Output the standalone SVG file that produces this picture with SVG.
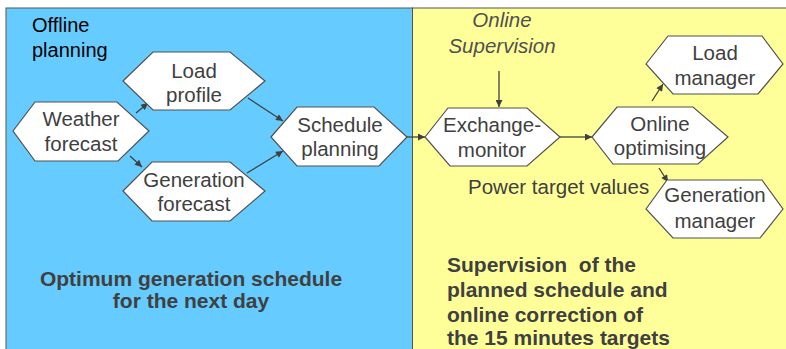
<svg xmlns="http://www.w3.org/2000/svg" width="786" height="349" viewBox="0 0 786 349">
<style>
.hex{fill:#ffffff;stroke:#505050;stroke-width:1.2}
.lbl{font-family:"Liberation Sans",Arial,sans-serif;font-size:20.5px;fill:#404040;text-anchor:middle}
.bold{font-family:"Liberation Sans",Arial,sans-serif;font-size:21px;font-weight:bold;fill:#404040}
.conn{stroke:#404040;stroke-width:1.3;fill:none;marker-end:url(#ah)}
</style>
<defs>
<marker id="ah" viewBox="0 0 10 10" refX="10" refY="5" markerWidth="8" markerHeight="7" markerUnits="userSpaceOnUse" orient="auto">
<path d="M0,0 L10,5 L0,10 z" fill="#404040"/>
</marker>
</defs>
<rect x="0" y="0" width="786" height="349" fill="#ffffff"/>
<g id="panel-offline">
<rect x="6" y="8" width="406.5" height="345" fill="#66CCFF" stroke="#555555" stroke-width="1"/>
<text x="32" y="32" font-family="Liberation Sans, Arial, sans-serif" font-size="20" fill="#000000">Offline</text>
<text x="32" y="57" font-family="Liberation Sans, Arial, sans-serif" font-size="20" fill="#000000">planning</text>
<text class="bold" x="191" y="286" text-anchor="middle">Optimum generation schedule</text>
<text class="bold" x="191" y="308" text-anchor="middle">for the next day</text>
</g>
<g id="panel-online">
<rect x="412.5" y="8" width="380" height="345" fill="#FFFF99" stroke="#555555" stroke-width="1"/>
<text x="502" y="27" font-family="Liberation Sans, Arial, sans-serif" font-size="20.5" font-style="italic" fill="#505050" text-anchor="middle">Online</text>
<text x="502" y="53" font-family="Liberation Sans, Arial, sans-serif" font-size="20.5" font-style="italic" fill="#505050" text-anchor="middle">Supervision</text>
<text class="bold" x="447" y="272" xml:space="preserve">Supervision  of the</text>
<text class="bold" x="447" y="297">planned schedule and</text>
<text class="bold" x="447" y="322">online correction of</text>
<text class="bold" x="447" y="345">the 15 minutes targets</text>
<text class="lbl" x="468" y="194" style="text-anchor:start">Power target values</text>
</g>
<g id="connectors">
<line class="conn" x1="136" y1="113" x2="148" y2="103"/>
<line class="conn" x1="130" y1="156" x2="142" y2="167"/>
<line class="conn" x1="248" y1="98" x2="283" y2="121"/>
<line class="conn" x1="247" y1="173" x2="283" y2="151"/>
<line class="conn" x1="407" y1="137" x2="425" y2="137"/>
<line class="conn" x1="499" y1="71" x2="499" y2="107"/>
<line class="conn" x1="560" y1="137" x2="592" y2="137"/>
<line class="conn" x1="652" y1="101" x2="663" y2="84"/>
<line class="conn" x1="659" y1="168" x2="668" y2="182"/>
</g>
<g id="weather-forecast">
<polygon class="hex" points="13,131 35,102 117,102 149,131 118,161 35,161"/>
<text class="lbl" x="81" y="126">Weather</text>
<text class="lbl" x="81" y="151">forecast</text>
</g>
<g id="load-profile">
<polygon class="hex" points="123,81 153,52 230,52 265,81 230,110 153,110"/>
<text class="lbl" x="194" y="78">Load</text>
<text class="lbl" x="194" y="102">profile</text>
</g>
<g id="generation-forecast">
<polygon class="hex" points="123,191 152,162 230,162 265,191 230,221 152,221"/>
<text class="lbl" x="194" y="187">Generation</text>
<text class="lbl" x="194" y="211">forecast</text>
</g>
<g id="schedule-planning">
<polygon class="hex" points="271,137 297,107 374,107 407,137 379,166 297,166"/>
<text class="lbl" x="340" y="132">Schedule</text>
<text class="lbl" x="340" y="156">planning</text>
</g>
<g id="exchange-monitor">
<polygon class="hex" points="425,137 448,108 527,108 560,137 527,166 450,166"/>
<text class="lbl" x="492" y="132">Exchange-</text>
<text class="lbl" x="492" y="157">monitor</text>
</g>
<g id="online-optimising">
<polygon class="hex" points="592,137 617,107 693,107 728,137 698,164 613,164"/>
<text class="lbl" x="660" y="131">Online</text>
<text class="lbl" x="660" y="155">optimising</text>
</g>
<g id="load-manager">
<polygon class="hex" points="646,64 668,36 762,36 783,64 758,94 673,94"/>
<text class="lbl" x="715" y="60">Load</text>
<text class="lbl" x="715" y="85">manager</text>
</g>
<g id="generation-manager">
<polygon class="hex" points="646,209 667,180 762,180 783,209 760,238 673,238"/>
<text class="lbl" x="715" y="202">Generation</text>
<text class="lbl" x="715" y="228">manager</text>
</g>
</svg>
